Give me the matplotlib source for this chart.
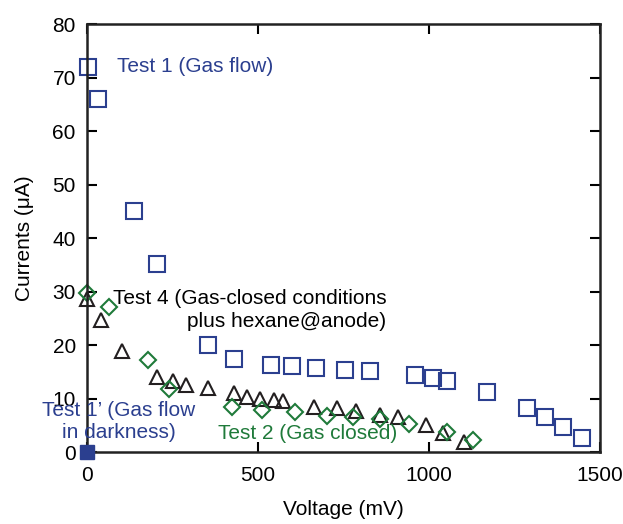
import matplotlib
matplotlib.use("Agg")
import matplotlib.pyplot as plt

plt.rcParams['font.family'] = ['Liberation Sans', 'DejaVu Sans']

# Test 1 (gas flow)
t1_v = [3, 33, 137, 204, 355, 430, 537, 600, 671, 754, 827, 959, 1011, 1052, 1169, 1287, 1339, 1393, 1448]
t1_i = [72.0, 66.0, 45.1, 35.2, 20.0, 17.4, 16.3, 16.0, 15.7, 15.3, 15.2, 14.4, 13.8, 13.3, 11.3, 8.2, 6.6, 4.7, 2.7]

# Test 1' (gas flow in darkness)
t1d_v = [0]
t1d_i = [0.0]

# Test 2 (gas closed)
t2_v = [0, 65, 179, 241, 423, 511, 608, 701, 779, 857, 942, 1053, 1129]
t2_i = [29.7, 27.2, 17.2, 11.7, 8.5, 7.9, 7.4, 6.7, 6.5, 6.1, 5.2, 3.8, 2.2]

# Test 4 (gas closed + hexane@anode)
t4_v = [0, 40, 101, 206, 252, 291, 353, 430, 467, 506, 547, 574, 664, 732, 788, 857, 910, 990, 1040, 1103]
t4_i = [28.7, 24.6, 18.9, 14.0, 13.2, 12.5, 11.9, 11.0, 10.3, 9.9, 9.7, 9.5, 8.4, 8.2, 7.7, 6.9, 6.5, 5.1, 3.6, 1.9]

blue = '#2b3f8f'
green = '#1f7a3a'
black = '#231f20'

fig = plt.figure(figsize=(6.23, 5.24), dpi=100)
ax = fig.add_axes([0.1396, 0.1374, 0.8234, 0.8162])

ax.plot(t4_v, t4_i, '^', ms=10, mfc='none', mec=black, mew=1.5, clip_on=False)
ax.plot(t2_v, t2_i, 'D', ms=8, mfc='none', mec=green, mew=1.5, clip_on=False)
ax.plot(t1_v, t1_i, 's', ms=11, mfc='none', mec=blue, mew=1.5, clip_on=False)
ax.plot(t1d_v, t1d_i, 's', ms=10, mfc=blue, mec=blue, mew=1.0, clip_on=False, zorder=5)

fs = 15
ax.text(88, 72.2, 'Test 1 (Gas flow)', color=blue, fontsize=fs, va='center')
ax.text(76, 26.6, 'Test 4 (Gas-closed conditions\nplus hexane@anode)', color='black',
        fontsize=fs, multialignment='right', va='center', linespacing=1.25)
ax.text(92, 5.7, 'Test 1\u2019 (Gas flow\nin darkness)', color=blue, fontsize=fs,
        ha='center', va='center', linespacing=1.2)
ax.text(383, 3.55, 'Test 2 (Gas closed)', color=green, fontsize=fs, va='center')

ax.set_xlim(0, 1500)
ax.set_ylim(0, 80)
ax.set_xticks([0, 500, 1000, 1500])
ax.set_yticks(range(0, 90, 10))
ax.tick_params(direction='in', length=7, width=1.5, labelsize=fs, pad=8,
               top=True, right=True, colors='black')
ax.tick_params(axis='x', pad=10)
for s in ax.spines.values():
    s.set_linewidth(1.8)
    s.set_color('#222222')

ax.set_xlabel('Voltage (mV)', fontsize=fs, labelpad=11)
ax.set_ylabel('Currents (\u03bcA)', fontsize=fs, labelpad=13)

fig.savefig('out.png', dpi=100)
